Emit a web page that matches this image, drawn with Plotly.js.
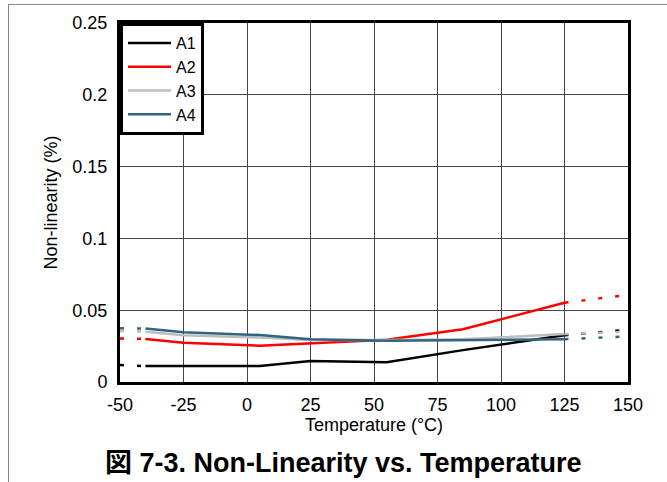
<!DOCTYPE html>
<html>
<head>
<meta charset="utf-8">
<script src="https://cdn.plot.ly/plotly-3.0.1.min.js"></script>
<style>
  html, body { margin: 0; padding: 0; background: #fff; }
  #wrap { position: relative; width: 667px; height: 482px; overflow: hidden; }
  #chart { position: absolute; left: 0; top: 0; width: 667px; height: 482px; }
  #frame { position: absolute; left: 8px; top: 4px; width: 670px; height: 490px;
           border-top: 1px solid #888; border-left: 1px solid #888; pointer-events: none; }
</style>
</head>
<body>
<div id="wrap">
  <div id="chart"></div>
  <div id="frame"></div>
</div>
<script>
// Measured temperatures (°C)
const temps = [-40, -25, 5, 25, 55, 85, 125];
// Non-linearity (%) per channel
const A1 = [0.0111, 0.0111, 0.0112, 0.0146, 0.0137, 0.0222, 0.0325];
const A2 = [0.0300, 0.0274, 0.0253, 0.0270, 0.0295, 0.0367, 0.0552];
const A3 = [0.0350, 0.0325, 0.0310, 0.0292, 0.0292, 0.0297, 0.0334];
const A4 = [0.0372, 0.0346, 0.0327, 0.0297, 0.0288, 0.0292, 0.0298];

// Extrapolated (dashed) portions
const tempsLow = [-50, -40];
const A1Low = [0.0118, 0.0111];
const A2Low = [0.0303, 0.0300];
const A3Low = [0.0355, 0.0350];
const A4Low = [0.0374, 0.0372];

const tempsHigh = [125, 150];
const A1High = [0.0325, 0.0365];
const A2High = [0.0552, 0.0607];
const A3High = [0.0334, 0.0350];
const A4High = [0.0298, 0.0318];

const names = ['A1', 'A2', 'A3', 'A4'];
const colors = ['#000000', '#ff0000', '#bdbdbd', '#2f6580'];

const xTickVals = [-50, -25, 0, 25, 50, 75, 100, 125, 150];
const xTickText = ['-50', '-25', '0', '25', '50', '75', '100', '125', '150'];
const yTickVals = [0, 0.05, 0.1, 0.15, 0.2, 0.25];
const yTickText = ['0', '0.05', '0.1', '0.15', '0.2', '0.25'];

const main = [A1, A2, A3, A4];
const low = [A1Low, A2Low, A3Low, A4Low];
const high = [A1High, A2High, A3High, A4High];

const traces = [];
for (let i = 0; i < 4; i++) {
  traces.push({x: tempsLow, y: low[i], mode: 'lines', showlegend: false, hoverinfo: 'skip',
    line: {color: colors[i], width: 2.5, dash: '4px,13px'}});
  traces.push({x: tempsHigh, y: high[i], mode: 'lines', showlegend: false, hoverinfo: 'skip',
    line: {color: colors[i], width: 2.5, dash: '4px,13px'}});
}
for (let i = 0; i < 4; i++) {
  traces.push({x: temps, y: main[i], name: names[i], mode: 'lines',
    line: {color: colors[i], width: 2.5}});
}

const font = 'Liberation Sans, Arial, Helvetica, sans-serif';

const layout = {
  width: 667, height: 482,
  margin: {l: 120, r: 39, t: 23, b: 100, pad: 0},
  paper_bgcolor: '#fff', plot_bgcolor: '#fff',
  font: {family: font, size: 18, color: '#000'},
  showlegend: true,
  legend: {x: 0, y: 1, xanchor: 'left', yanchor: 'top', bgcolor: '#fff',
    bordercolor: '#000', borderwidth: 3, font: {family: font, size: 16, color: '#000'},
    tracegroupgap: 0, itemwidth: 43},
  xaxis: {range: [-50, 150], tickvals: xTickVals, ticktext: xTickText,
    showgrid: true, gridcolor: '#444', gridwidth: 1, zeroline: false,
    showline: true, linecolor: '#000', linewidth: 3, mirror: true,
    ticks: 'outside', ticklen: 4, tickcolor: 'rgba(0,0,0,0)',
    tickfont: {family: font, size: 18, color: '#000'},
    title: {text: 'Temperature (°C)', font: {family: font, size: 18, color: '#000'}, standoff: 2},
    fixedrange: true},
  yaxis: {range: [0, 0.25], tickvals: yTickVals, ticktext: yTickText,
    showgrid: true, gridcolor: '#444', gridwidth: 1, zeroline: false,
    showline: true, linecolor: '#000', linewidth: 3, mirror: true,
    ticks: 'outside', ticklen: 6, tickcolor: 'rgba(0,0,0,0)',
    tickfont: {family: font, size: 18, color: '#000'},
    title: {text: 'Non-linearity (%)', font: {family: font, size: 18, color: '#000'}, standoff: 11},
    fixedrange: true},
  annotations: [{
    text: '<b>図 7-3. Non-Linearity vs. Temperature</b>',
    xref: 'paper', yref: 'paper', x: (343 - 120) / 508, y: (382 - 463) / 359,
    xanchor: 'center', yanchor: 'middle', showarrow: false,
    font: {family: 'Liberation Sans, Arial, "Noto Sans CJK JP", sans-serif', size: 27, color: '#000'}
  }]
};

Plotly.newPlot('chart', traces, layout, {staticPlot: true, displayModeBar: false});
</script>
</body>
</html>
